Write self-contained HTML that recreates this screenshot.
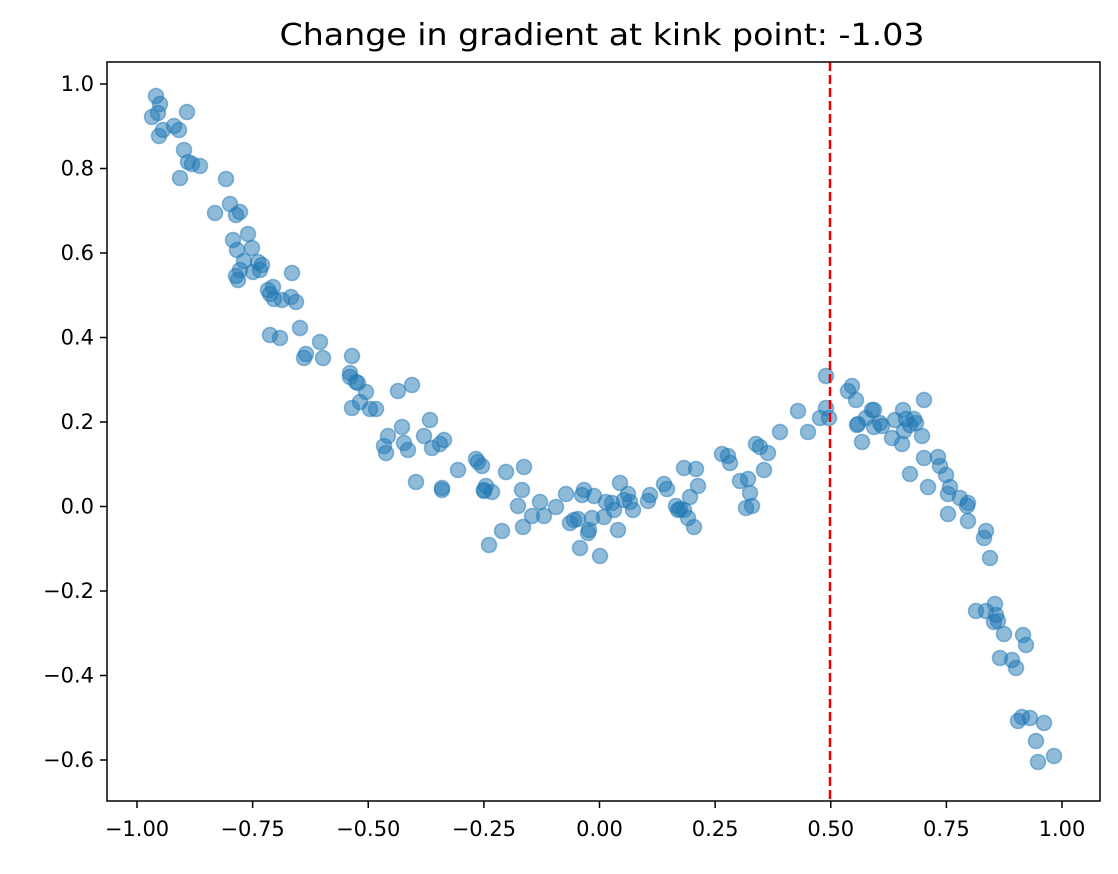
<!DOCTYPE html>
<html><head><meta charset="utf-8"><style>
body{margin:0;background:#fff;}
svg text{font-family:"DejaVu Sans","Liberation Sans",sans-serif;fill:#000;}
</style></head><body>
<svg id="s" width="1118" height="869" xmlns="http://www.w3.org/2000/svg">
<rect width="1118" height="869" fill="#fff"/>
<text x="602" y="45" font-size="30" text-anchor="middle" textLength="645" lengthAdjust="spacingAndGlyphs">Change in gradient at kink point: -1.03</text>
<g id="pts" fill="rgba(31,119,180,0.5)" stroke="rgba(31,119,180,0.5)" stroke-width="1.5"></g>
<line x1="830" y1="62" x2="830" y2="801" stroke="#e00" stroke-width="2.5" stroke-dasharray="9,4"/>
<rect x="107" y="62" width="993" height="739" fill="none" stroke="#000" stroke-width="1.5"/>
<g id="ticks" stroke="#000" stroke-width="1.5"></g>
<g id="labels" font-size="21"></g>
</svg>
<script>
var P=[[152,117],[156,96],[160,104],[158,113],[159,136],[163,130],[174,126],[179,130],[187,112],[180,178],[184,150],[188,162],[192,164],[200,166],[215,213],[226,179],[230,204],[236,215],[240,212],[233,240],[237,250],[240,270],[236,276],[238,280],[244,261],[248,234],[252,248],[253,272],[258,262],[262,265],[260,270],[268,290],[270,294],[273,287],[274,299],[270,335],[280,338],[282,300],[291,297],[296,302],[292,273],[300,328],[304,358],[306,354],[320,342],[323,358],[350,373],[352,356],[350,377],[356,382],[358,383],[366,392],[352,408],[360,402],[370,409],[376,409],[384,446],[386,453],[388,436],[398,391],[402,427],[404,443],[408,450],[412,385],[416,482],[424,436],[430,420],[432,448],[440,444],[442,488],[442,490],[444,440],[458,470],[476,459],[478,462],[482,466],[484,490],[484,491],[486,486],[492,492],[489,545],[502,531],[506,472],[518,506],[522,490],[523,527],[524,467],[532,516],[540,502],[544,516],[556,507],[566,494],[570,523],[574,520],[578,519],[580,548],[584,490],[582,495],[588,533],[589,530],[592,518],[594,496],[600,556],[604,517],[606,502],[612,503],[614,510],[618,530],[620,483],[624,500],[630,502],[633,510],[628,494],[648,501],[650,495],[664,484],[667,489],[676,506],[678,510],[680,509],[684,468],[684,510],[688,518],[690,497],[694,527],[696,469],[698,486],[722,454],[728,456],[730,463],[740,481],[746,508],[748,479],[750,493],[752,506],[756,444],[760,447],[764,470],[768,453],[780,432],[798,411],[808,432],[820,418],[826,376],[826,408],[829,418],[848,391],[852,386],[856,400],[857,425],[858,424],[862,442],[866,418],[872,410],[874,427],[874,410],[880,423],[882,426],[892,438],[895,420],[902,444],[904,431],[903,410],[906,419],[910,425],[914,419],[910,474],[916,423],[924,458],[922,436],[924,400],[928,487],[938,457],[940,466],[946,475],[948,494],[950,487],[948,514],[960,498],[968,503],[968,521],[967,506],[976,611],[984,538],[990,558],[986,531],[986,611],[994,622],[995,604],[996,615],[998,621],[1000,658],[1004,634],[1012,660],[1016,668],[1018,721],[1022,717],[1023,635],[1026,645],[1030,718],[1036,741],[1038,762],[1044,723],[1054,756]];
var ns="http://www.w3.org/2000/svg",g=document.getElementById('pts');
P.forEach(function(p){var c=document.createElementNS(ns,'circle');c.setAttribute('cx',p[0]);c.setAttribute('cy',p[1]);c.setAttribute('r',7.5);g.appendChild(c);});
var t=document.getElementById('ticks'),l=document.getElementById('labels');
function el(n,a,par,txt){var e=document.createElementNS(ns,n);for(var k in a)e.setAttribute(k,a[k]);if(txt)e.textContent=txt;par.appendChild(e);}
for(var i=0;i<9;i++){var v=-1+i*0.25,x=599.5+v*462.5;
el('line',{x1:x,y1:801,x2:x,y2:808},t);
el('text',{x:x,y:836,'text-anchor':'middle'},l,(v<0?'\u2212':'')+Math.abs(v).toFixed(2));}
for(var i=0;i<9;i++){var v=-0.6+i*0.2,y=506.5-v*422.5;
el('line',{x1:100,y1:y,x2:107,y2:y},t);
el('text',{x:94,y:y+7,'text-anchor':'end'},l,(v<-0.01?'\u2212':'')+Math.abs(v).toFixed(1));}
</script>
</body></html>
